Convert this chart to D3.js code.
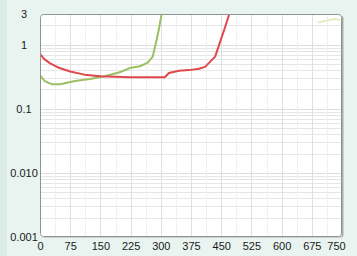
<!DOCTYPE html>
<html>
<head>
<meta charset="utf-8">
<script src="https://cdn.jsdelivr.net/npm/d3@7"></script>
<style>
  body { margin: 0; background: #e9f4f1; }
  svg { display: block; }
  .tick text { font-family: "Liberation Sans", Arial, sans-serif; font-size: 11px; fill: #1a1a1a; }
</style>
</head>
<body>
<div id="chart"></div>
<script>
// Chart values
var xTicks = [0, 75, 150, 225, 300, 375, 450, 525, 600, 675, 750];
var yTicks = [0.001, 0.01, 0.1, 1, 3];
var yTickLabels = ["0.001", "0.010", "0.1", "1", "3"];

var redX = [0, 10, 25, 45, 75, 110, 150, 225, 310, 320, 345, 370, 395, 410, 435, 445, 460, 470, 480];
var redY = [0.72, 0.6, 0.51, 0.44, 0.38, 0.34, 0.32, 0.31, 0.31, 0.36, 0.39, 0.4, 0.42, 0.45, 0.65, 1.0, 1.9, 3, 4.5];

var greenX = [0, 12, 30, 50, 87, 124, 161, 198, 223, 248, 267, 280, 287, 295, 302, 310];
var greenY = [0.33, 0.27, 0.24, 0.24, 0.27, 0.29, 0.32, 0.37, 0.43, 0.46, 0.52, 0.65, 1.0, 1.7, 3, 4.5];

var paleX = [690, 710, 730, 745];
var paleY = [2.2, 2.35, 2.5, 2.45];

// Set up chart
var svgWidth = 357;
var svgHeight = 256;
var margin = {top: 14, right: 15, bottom: 19, left: 40};
var width = svgWidth - margin.left - margin.right;
var height = svgHeight - margin.top - margin.bottom;

var svg = d3.select("#chart")
  .append("svg")
  .attr("width", svgWidth)
  .attr("height", svgHeight);

// darker stripe on the left edge
svg.append("rect")
  .attr("x", 0).attr("y", 0)
  .attr("width", 7).attr("height", svgHeight)
  .attr("fill", "#dcece6");

var defs = svg.append("defs");
defs.append("clipPath").attr("id", "plotclip")
  .append("rect").attr("width", width).attr("height", height).attr("rx", 3);

var chartGroup = svg.append("g")
  .attr("transform", `translate(${margin.left}, ${margin.top})`);

var x = d3.scaleLinear().domain([0, 750]).range([0, width]);
var y = d3.scaleLog().domain([0.001, 3]).range([height, 0]);

// shadow on the right side of the frame
chartGroup.append("rect")
  .attr("x", 1.5).attr("y", 1.5)
  .attr("width", width).attr("height", height - 1)
  .attr("rx", 3)
  .attr("fill", "#a9aeac");

// plot area
chartGroup.append("rect")
  .attr("width", width).attr("height", height)
  .attr("rx", 3)
  .attr("fill", "#fff");

var grid = chartGroup.append("g").attr("clip-path", "url(#plotclip)");

// horizontal minor lines (2..9 per decade)
var minors = [];
[0.001, 0.01, 0.1, 1].forEach(function(d) {
  for (var k = 2; k <= 9; k++) {
    if (d * k <= 3) minors.push(d * k);
  }
});
grid.selectAll(".hminor")
  .data(minors)
  .enter().append("line")
  .attr("x1", 0).attr("x2", width)
  .attr("y1", d => Math.round(y(d)) + 0.5)
  .attr("y2", d => Math.round(y(d)) + 0.5)
  .attr("stroke", "#e6e6e6");

grid.selectAll(".hmajor")
  .data([0.01, 0.1, 1])
  .enter().append("line")
  .attr("x1", 0).attr("x2", width)
  .attr("y1", d => Math.round(y(d)) + 0.5)
  .attr("y2", d => Math.round(y(d)) + 0.5)
  .attr("stroke", "#dcdcdc");

// vertical lines
var vMinor = d3.range(37.5, 750, 75);
grid.selectAll(".vminor")
  .data(vMinor)
  .enter().append("line")
  .attr("x1", d => Math.round(x(d)) + 0.5)
  .attr("x2", d => Math.round(x(d)) + 0.5)
  .attr("y1", 0).attr("y2", height)
  .attr("stroke", "#f0f0f0");

grid.selectAll(".vmajor")
  .data(xTicks.slice(1, -1))
  .enter().append("line")
  .attr("x1", d => Math.round(x(d)) + 0.5)
  .attr("x2", d => Math.round(x(d)) + 0.5)
  .attr("y1", 0).attr("y2", height)
  .attr("stroke", "#e0e0e0");

// series
var line = d3.line()
  .x(d => x(d[0]))
  .y(d => y(d[1]));

var plot = chartGroup.append("g").attr("clip-path", "url(#plotclip)");

plot.append("path")
  .datum(d3.zip(paleX, paleY))
  .attr("d", line)
  .attr("fill", "none")
  .attr("stroke", "#e4ecc4")
  .attr("stroke-width", 2);

plot.append("path")
  .datum(d3.zip(greenX, greenY))
  .attr("d", line)
  .attr("fill", "none")
  .attr("stroke", "#9cbf62")
  .attr("stroke-width", 2)
  .attr("stroke-linejoin", "round");

plot.append("path")
  .datum(d3.zip(redX, redY))
  .attr("d", line)
  .attr("fill", "none")
  .attr("stroke", "#e0484c")
  .attr("stroke-width", 2)
  .attr("stroke-linejoin", "round");

// frame border
chartGroup.append("rect")
  .attr("x", 0.5).attr("y", 0.5)
  .attr("width", width - 1).attr("height", height - 1)
  .attr("rx", 3)
  .attr("fill", "none")
  .attr("stroke", "#8e9492");

// axes
var bottomAxis = d3.axisBottom(x).tickValues(xTicks).tickSize(0).tickPadding(5);
var leftAxis = d3.axisLeft(y).tickValues(yTicks).tickSize(0)
  .tickFormat((d, i) => yTickLabels[i]);

var xg = chartGroup.append("g")
  .attr("transform", `translate(0, ${height})`)
  .call(bottomAxis);
xg.select(".domain").remove();
xg.selectAll(".tick text")
  .filter(d => d === 750)
  .attr("dx", -6);

var yg = chartGroup.append("g").call(leftAxis);
yg.select(".domain").remove();
yg.selectAll(".tick text")
  .style("text-anchor", "middle")
  .attr("x", -16);
</script>
</body>
</html>
